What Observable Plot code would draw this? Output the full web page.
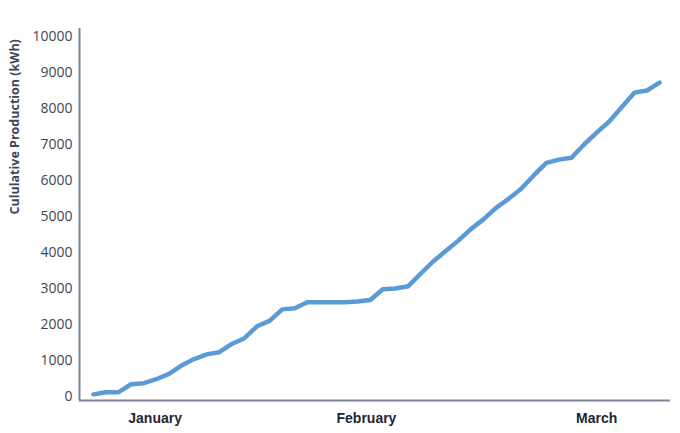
<!DOCTYPE html>
<html>
<head>
<meta charset="utf-8">
<script src="https://cdn.jsdelivr.net/npm/d3@7"></script>
<script src="https://cdn.jsdelivr.net/npm/@observablehq/plot@0.6"></script>
<style>
  html, body { margin: 0; padding: 0; background: #fff; }
  #chart { width: 680px; height: 433px; }
</style>
</head>
<body>
<div id="chart"></div>
<script>
// Cumulative production readings (kWh), one per reading interval
const production = [
  60, 120, 120, 340, 370, 480, 630, 860, 1040, 1170,
  1230, 1460, 1620, 1950, 2100, 2420, 2450, 2620, 2620, 2620,
  2620, 2640, 2680, 2980, 3000, 3060, 3410, 3750, 4040, 4330,
  4650, 4920, 5240, 5490, 5770, 6140, 6490, 6580, 6630, 7000,
  7330, 7640, 8040, 8440, 8500, 8720
];
// Month labels and their positions along the reading index
const monthLabels = ["January", "February", "March"];
const monthPositions = [4.9, 21.7, 40.0];
const yTicks = [0, 1000, 2000, 3000, 4000, 5000, 6000, 7000, 8000, 9000, 10000];
const yLabel = "Cululative Production (kWh)";

const data = production.map((v, i) => ({index: i, value: v}));
const monthData = monthLabels.map((m, i) => ({label: m, pos: monthPositions[i]}));

const chart = Plot.plot({
  width: 680,
  height: 433,
  marginLeft: 79,
  marginRight: 10,
  marginTop: 28,
  marginBottom: 33,
  style: {fontFamily: "'Open Sans', 'Noto Sans', sans-serif", background: "#fff"},
  x: {domain: [-1.11, 45.87], axis: null},
  y: {domain: [-111, 10222], axis: null},
  marks: [
    Plot.axisY({
      ticks: yTicks,
      tickFormat: d => String(d),
      tickSize: 0,
      tickPadding: 7,
      fontSize: 14,
      color: "#3d4657",
      label: null
    }),
    Plot.text([yLabel], {
      frameAnchor: "left",
      dx: -65,
      rotate: -90,
      fontSize: 12.5,
      fontWeight: "bold",
      fill: "#3d4657",
      text: d => d
    }),
    Plot.text(monthData, {
      x: "pos",
      y: () => -111,
      text: "label",
      dy: 18,
      fontSize: 14,
      fontWeight: "bold",
      fill: "#1e2533",
      fontFamily: "'Liberation Sans', Arial, sans-serif"
    }),
    Plot.ruleX([-1.11], {stroke: "#7b8494", strokeWidth: 2}),
    Plot.ruleY([-111], {stroke: "#7b8494", strokeWidth: 2}),
    Plot.line(data, {
      x: "index",
      y: "value",
      stroke: "#5b9bd5",
      strokeWidth: 4.5,
      strokeLinejoin: "round",
      strokeLinecap: "round"
    })
  ]
});
document.getElementById("chart").appendChild(chart);
</script>
</body>
</html>
